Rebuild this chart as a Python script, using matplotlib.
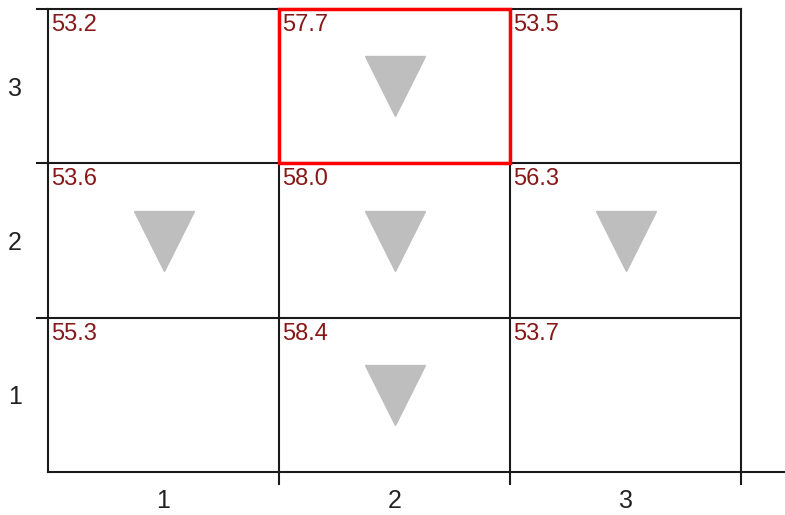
import matplotlib.pyplot as plt
from matplotlib.patches import Rectangle

# grid of cell values, rows listed top (3) to bottom (1), columns 1..3
cols = [1, 2, 3]
rows = [3, 2, 1]
valores = [
    [53.2, 57.7, 53.5],
    [53.6, 58.0, 56.3],
    [55.3, 58.4, 53.7],
]
# cells that get the grey down triangle (col, row)
setas = [(2, 3), (1, 2), (2, 2), (3, 2), (2, 1)]
# highlighted cell (col, row)
destaque = (2, 3)

cor_linha = '#1a1a1a'
cor_texto = '#861818'
cor_seta = '#bebebe'
fonte = ['Liberation Sans', 'DejaVu Sans']

fig = plt.figure(figsize=(7.85, 5.15), dpi=100)
W, H = 785, 515
ax = fig.add_axes([48 / W, (H - 472) / H, (741 - 48) / W, (472 - 9) / H])
ax.set_xlim(0.5, 3.5)
ax.set_ylim(0.5, 3.5)

for s in ax.spines.values():
    s.set_color(cor_linha)
    s.set_linewidth(1.5)

# inner grid lines
for v in [1.5, 2.5]:
    ax.axvline(v, color=cor_linha, lw=1.5)
    ax.axhline(v, color=cor_linha, lw=1.5)

# bottom line runs on past the right edge
ax.plot([1, 1 + (785 - 741) / (741 - 48)], [0, 0], transform=ax.transAxes,
        color=cor_linha, lw=1.5, clip_on=False)

# ticks: major at the cell borders (no labels), minor at centres (labels)
ax.set_xticks([1.5, 2.5, 3.5])
ax.set_yticks([1.5, 2.5, 3.5])
ax.set_xticklabels([])
ax.set_yticklabels([])
ax.set_xticks(cols, minor=True)
ax.set_yticks(rows, minor=True)
ax.set_xticklabels([str(c) for c in cols], minor=True, family=fonte, fontsize=18, color='#222222')
ax.set_yticklabels([str(r) for r in rows], minor=True, family=fonte, fontsize=18, color='#222222')
ax.tick_params(which='major', direction='out', length=9, width=1.5, color=cor_linha)
ax.tick_params(which='minor', length=0)
ax.tick_params(axis='x', which='minor', pad=12)
ax.tick_params(axis='y', which='minor', pad=19)

for i, r in enumerate(rows):
    for j, c in enumerate(cols):
        ax.annotate(f'{valores[i][j]:.1f}', xy=(c - 0.5, r + 0.5), xytext=(3, -5),
                    textcoords='offset pixels', ha='left', va='top',
                    color=cor_texto, fontsize=17, family=fonte)

for c, r in setas:
    ax.plot(c, r, marker='v', markersize=43, color=cor_seta, linestyle='none')

ax.add_patch(Rectangle((destaque[0] - 0.5, destaque[1] - 0.5), 1, 1, fill=False,
                       edgecolor='red', lw=2.5, clip_on=False, zorder=5))

fig.savefig('out.png', dpi=100)
